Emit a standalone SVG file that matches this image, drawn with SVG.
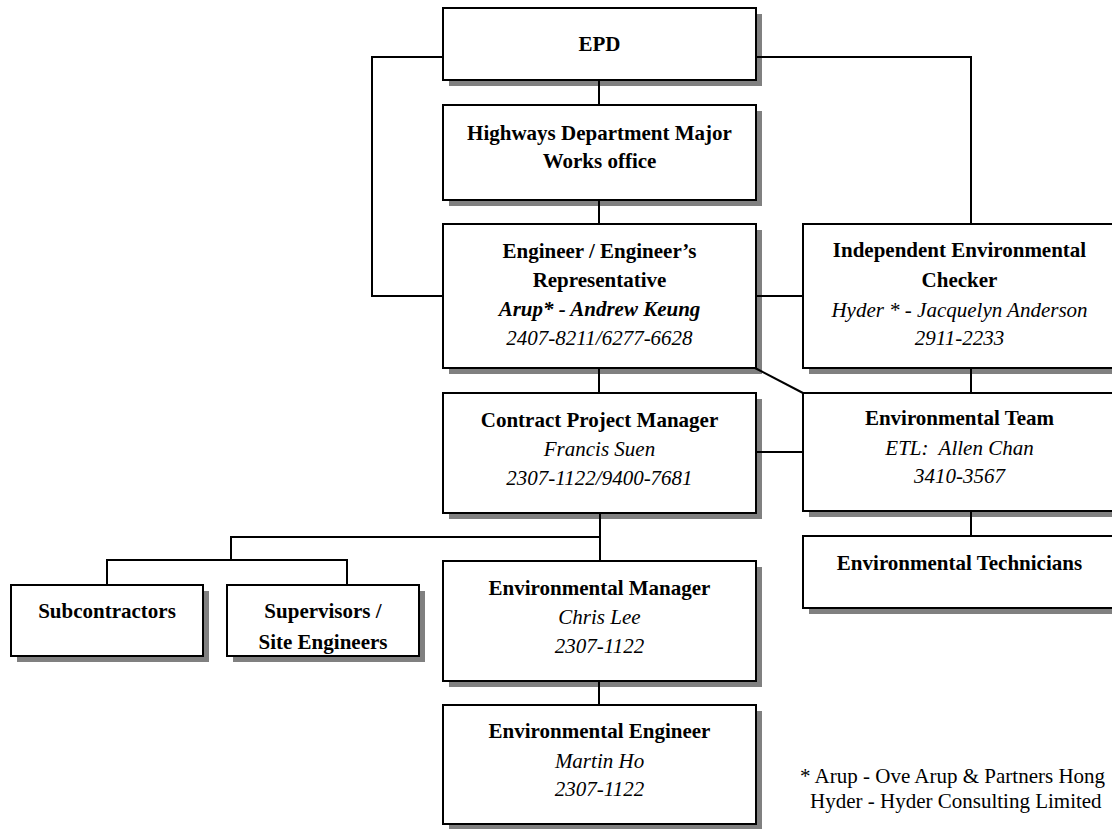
<svg xmlns="http://www.w3.org/2000/svg" width="1112" height="829" viewBox="0 0 1112 829">
<style>
.sh{fill:#808080;stroke:none}
.bx{fill:#fff;stroke:#000;stroke-width:2}
.cn{fill:none;stroke:#000;stroke-width:2}
text{font-family:"Liberation Serif","Times New Roman",serif;font-size:21px;fill:#000;text-anchor:middle}
.b{font-weight:bold}
.i{font-style:italic}
.bi{font-weight:bold;font-style:italic}
.fn{text-anchor:start}
</style>
<rect width="1112" height="829" fill="#fff"/>
<g id="epd"><rect class="sh" x="449" y="14" width="313" height="72"/><rect class="bx" x="443" y="8" width="313" height="72"/><text class="b" x="599.5" y="51">EPD</text></g>
<g id="hwd"><rect class="sh" x="449" y="111" width="313" height="95"/><rect class="bx" x="443" y="105" width="313" height="95"/><text class="b" x="599.5" y="140">Highways Department Major</text><text class="b" x="599.5" y="168">Works office</text></g>
<g id="engineer"><rect class="sh" x="449" y="230" width="313" height="144"/><rect class="bx" x="443" y="224" width="313" height="144"/><text class="b" x="599.5" y="258">Engineer / Engineer’s</text><text class="b" x="599.5" y="287">Representative</text><text class="bi" x="599.5" y="316">Arup* - Andrew Keung</text><text class="i" x="599.5" y="345">2407-8211/6277-6628</text></g>
<g id="cpm"><rect class="sh" x="449" y="399" width="313" height="120"/><rect class="bx" x="443" y="393" width="313" height="120"/><text class="b" x="599.5" y="427">Contract Project Manager</text><text class="i" x="599.5" y="456">Francis Suen</text><text class="i" x="599.5" y="485">2307-1122/9400-7681</text></g>
<g id="em"><rect class="sh" x="449" y="567" width="313" height="120"/><rect class="bx" x="443" y="561" width="313" height="120"/><text class="b" x="599.5" y="595">Environmental Manager</text><text class="i" x="599.5" y="624">Chris Lee</text><text class="i" x="599.5" y="653">2307-1122</text></g>
<g id="ee"><rect class="sh" x="449" y="711" width="313" height="119"/><rect class="bx" x="443" y="705" width="313" height="119"/><text class="b" x="599.5" y="738">Environmental Engineer</text><text class="i" x="599.5" y="768">Martin Ho</text><text class="i" x="599.5" y="796">2307-1122</text></g>
<g id="sub"><rect class="sh" x="17" y="591" width="192" height="71"/><rect class="bx" x="11" y="585" width="192" height="71"/><text class="b" x="107" y="618">Subcontractors</text></g>
<g id="sup"><rect class="sh" x="233" y="591" width="192" height="71"/><rect class="bx" x="227" y="585" width="192" height="71"/><text class="b" x="323" y="618">Supervisors /</text><text class="b" x="323" y="649">Site Engineers</text></g>
<g id="iec"><rect class="sh" x="809" y="230" width="313" height="144"/><rect class="bx" x="803" y="224" width="313" height="144"/><text class="b" x="959.5" y="257">Independent Environmental</text><text class="b" x="959.5" y="287">Checker</text><text class="i" x="959.5" y="317">Hyder * - Jacquelyn Anderson</text><text class="i" x="959.5" y="345">2911-2233</text></g>
<g id="et"><rect class="sh" x="809" y="399" width="313" height="118"/><rect class="bx" x="803" y="393" width="313" height="118"/><text class="b" x="959.5" y="425">Environmental Team</text><text class="i" x="959.5" y="455">ETL:&#160; Allen Chan</text><text class="i" x="959.5" y="483">3410-3567</text></g>
<g id="tech"><rect class="sh" x="809" y="542" width="313" height="72"/><rect class="bx" x="803" y="536" width="313" height="72"/><text class="b" x="959.5" y="570">Environmental Technicians</text></g>
<g id="connectors" class="cn">
<path class="cn" d="M599,80V105"/>
<path class="cn" d="M599,200V224"/>
<path class="cn" d="M443,57H372V296H443"/>
<path class="cn" d="M756,57H971V224"/>
<path class="cn" d="M756,296H803"/>
<path class="cn" d="M599,368V393"/>
<path class="cn" d="M755,368L803,393"/>
<path class="cn" d="M971,368V393"/>
<path class="cn" d="M756,452H803"/>
<path class="cn" d="M971,511V536"/>
<path class="cn" d="M600,513V561"/>
<path class="cn" d="M600,537H231V560"/>
<path class="cn" d="M107,585V560H347V585"/>
<path class="cn" d="M599,681V705"/>
</g>
<g id="footnote">
<text class="fn" x="800" y="783">* Arup - Ove Arup &amp; Partners Hong</text>
<text class="fn" x="810" y="808">Hyder - Hyder Consulting Limited</text>
</g>
</svg>
